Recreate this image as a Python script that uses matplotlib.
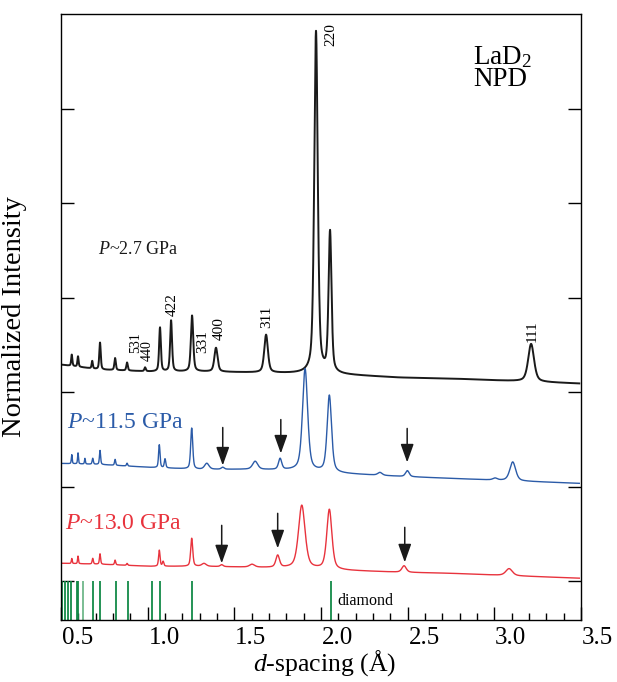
import numpy as np
import matplotlib
matplotlib.use("Agg")
import matplotlib.pyplot as plt
from matplotlib.transforms import ScaledTranslation

plt.rcParams['font.family'] = ['Liberation Serif', 'DejaVu Serif']
plt.rcParams['mathtext.fontset'] = 'custom'
plt.rcParams['mathtext.rm'] = 'Liberation Serif'
plt.rcParams['mathtext.it'] = 'Liberation Serif:italic'

# --- baselines (d-spacing, offset intensity) ---
base_d = [0.5, 0.725, 1.014, 1.302, 1.591, 1.879, 2.11, 2.456, 2.745, 3.033, 3.495]
base_27 = [2.291, 2.239, 2.218, 2.218, 2.208, 2.197, 2.186, 2.154, 2.144, 2.123, 2.091]
base_115 = [1.246, 1.235, 1.204, 1.183, 1.183, 1.172, 1.140, 1.109, 1.088, 1.067, 1.035]
base_130 = [0.190, 0.180, 0.158, 0.158, 0.148, 0.137, 0.116, 0.095, 0.084, 0.063, 0.032]

# --- peaks: centre (A), height above baseline, FWHM (A) ---
pk_27_d = [0.562, 0.598, 0.68, 0.725, 0.812, 0.881, 0.985, 1.071, 1.135, 1.256,
           1.394, 1.683, 1.971, 2.052, 3.212]
pk_27_h = [0.12, 0.11, 0.08, 0.285, 0.127, 0.085, 0.04, 0.465, 0.539, 0.591,
           0.253, 0.40, 3.62, 1.49, 0.40]
pk_27_w = [0.008, 0.008, 0.008, 0.010, 0.010, 0.010, 0.010, 0.012, 0.013, 0.016,
           0.022, 0.025, 0.024, 0.020, 0.040]

pk_115_d = [0.562, 0.598, 0.638, 0.683, 0.725, 0.812, 0.881, 1.067, 1.10, 1.254,
            1.341, 1.433, 1.62, 1.764, 1.908, 2.048, 2.34, 2.498, 3.004, 3.106]
pk_115_h = [0.095, 0.116, 0.06, 0.063, 0.148, 0.063, 0.03, 0.243, 0.095, 0.433,
            0.063, 0.021, 0.085, 0.116, 1.077, 0.813, 0.03, 0.063, 0.02, 0.20]
pk_115_w = [0.006, 0.006, 0.006, 0.008, 0.008, 0.008, 0.008, 0.010, 0.010, 0.014,
            0.030, 0.020, 0.035, 0.022, 0.035, 0.030, 0.030, 0.025, 0.030, 0.040]

pk_130_d = [0.562, 0.598, 0.683, 0.725, 0.812, 0.881, 1.067, 1.089, 1.254, 1.325,
            1.427, 1.602, 1.75, 1.889, 2.048, 2.479, 3.085]
pk_130_h = [0.053, 0.08, 0.06, 0.11, 0.05, 0.02, 0.17, 0.05, 0.296, 0.03,
            0.02, 0.03, 0.127, 0.665, 0.634, 0.069, 0.074]
pk_130_w = [0.006, 0.006, 0.008, 0.008, 0.008, 0.008, 0.010, 0.010, 0.014, 0.030,
            0.020, 0.035, 0.025, 0.045, 0.035, 0.030, 0.045]

# diamond reflections (tick marks at the bottom)
diamond_d = [0.504, 0.523, 0.542, 0.556, 0.591, 0.600, 0.686, 0.725, 0.817, 0.888,
             1.023, 1.071, 1.258, 2.056]
diamond_faint = [0.629]

# hkl labels: text, d, bottom of text
hkl_text = ["531", "440", "422", "331", "400", "311", "220", "111"]
hkl_d = [0.93, 0.996, 1.14, 1.319, 1.412, 1.689, 2.058, 3.218]
hkl_y = [2.41, 2.334, 2.809, 2.418, 2.555, 2.682, 5.66, 2.53]
hkl_size = [10, 10, 11, 11, 11, 11, 11, 11]

# arrows (d, tail, tip) for the two high-pressure patterns
arrow_d = [1.433, 1.768, 2.497, 1.427, 1.750, 2.483]
arrow_top = [1.626, 1.71, 1.616, 0.591, 0.718, 0.570]
arrow_tip = [1.225, 1.352, 1.257, 0.19, 0.348, 0.20]

xticks = [0.5, 1.0, 1.5, 2.0, 2.5, 3.0, 3.5]
xtick_labels = ["0.5", "1.0", "1.5", "2.0", "2.5", "3.0", "3.5"]


def pattern(x, base_y, centres, heights, widths):
    # pseudo-voigt peaks on top of the read baseline
    y = np.interp(x, base_d, base_y)
    for c, h, w in zip(centres, heights, widths):
        g = np.exp(-4 * np.log(2) * ((x - c) / w) ** 2)
        l = 1.0 / (1.0 + 4 * ((x - c) / w) ** 2)
        y = y + h * (0.5 * g + 0.5 * l)
    return y


def main():
    fig = plt.figure(figsize=(6.17, 6.82), dpi=100)
    ax = fig.add_axes([0.0989, 0.0909, 0.8428, 0.8886])

    x = np.linspace(0.5, 3.49, 4000)
    ax.plot(x, pattern(x, base_27, pk_27_d, pk_27_h, pk_27_w), color='#1a1a1a', lw=1.4)
    ax.plot(x, pattern(x, base_115, pk_115_d, pk_115_h, pk_115_w), color='#2b5ba8', lw=1.0)
    ax.plot(x, pattern(x, base_130, pk_130_d, pk_130_h, pk_130_w), color='#e8333d', lw=1.0)

    ax.vlines(diamond_d, -0.42, 0.0, color='#138a48', lw=1.3)
    ax.vlines(diamond_faint, -0.42, 0.0, color='#6fb88a', lw=1.3)
    ax.text(2.097, -0.253, "diamond", fontsize=11.5, ha='left', va='baseline')

    for t, d, yb, fs in zip(hkl_text, hkl_d, hkl_y, hkl_size):
        ax.text(d, yb, t, rotation=90, fontsize=fs, ha='center', va='bottom')

    for d, y0, y1 in zip(arrow_d, arrow_top, arrow_tip):
        ax.annotate('', xy=(d, y1), xytext=(d, y0),
                    arrowprops=dict(arrowstyle='-|>,head_length=0.7,head_width=0.25',
                                    color='#1a1a1a', lw=1.1, mutation_scale=16,
                                    shrinkA=0, shrinkB=0))

    ax.text(0.713, 3.464, "$P$~2.7 GPa", fontsize=13, color='#1a1a1a', va='baseline')
    ax.text(0.535, 1.616, "$P$~11.5 GPa", fontsize=17, color='#2b5ba8', va='baseline')
    ax.text(0.523, 0.549, "$P$~13.0 GPa", fontsize=17, color='#e8333d', va='baseline')
    ax.text(2.877, 5.17, "LaD$_2$\nNPD", fontsize=19.5, ha='left', va='bottom',
            linespacing=0.85)

    ax.set_xlim(0.5, 3.5)
    ax.set_ylim(-0.41, 6.0)
    ax.set_xticks(xticks)
    ax.set_xticklabels(xtick_labels)
    ax.set_xticks(np.arange(0.6, 3.45, 0.1), minor=True)
    ax.set_yticks([0, 1, 2, 3, 4, 5])
    ax.set_yticklabels([])
    ax.tick_params(axis='x', which='major', direction='in', length=9.5, width=1.0,
                   labelsize=18, pad=5)
    ax.tick_params(axis='x', which='minor', direction='in', length=5, width=1.0)
    ax.tick_params(axis='y', direction='in', length=9.5, width=1.0, left=True, right=True)
    for s in ax.spines.values():
        s.set_linewidth(1.0)

    # tick labels in the original sit a little right of their ticks
    offset = ScaledTranslation(0.165, 0, fig.dpi_scale_trans)
    for lab in ax.get_xticklabels():
        lab.set_transform(lab.get_transform() + offset)

    ax.set_xlabel("$d$-spacing (Å)", fontsize=18.5)
    ax.xaxis.set_label_coords(0.507, -0.047)
    ax.set_ylabel("Normalized Intensity", fontsize=20.5)
    ax.yaxis.set_label_coords(-0.065, 0.5)

    fig.savefig("out.png", dpi=100)


if __name__ == '__main__':
    main()
